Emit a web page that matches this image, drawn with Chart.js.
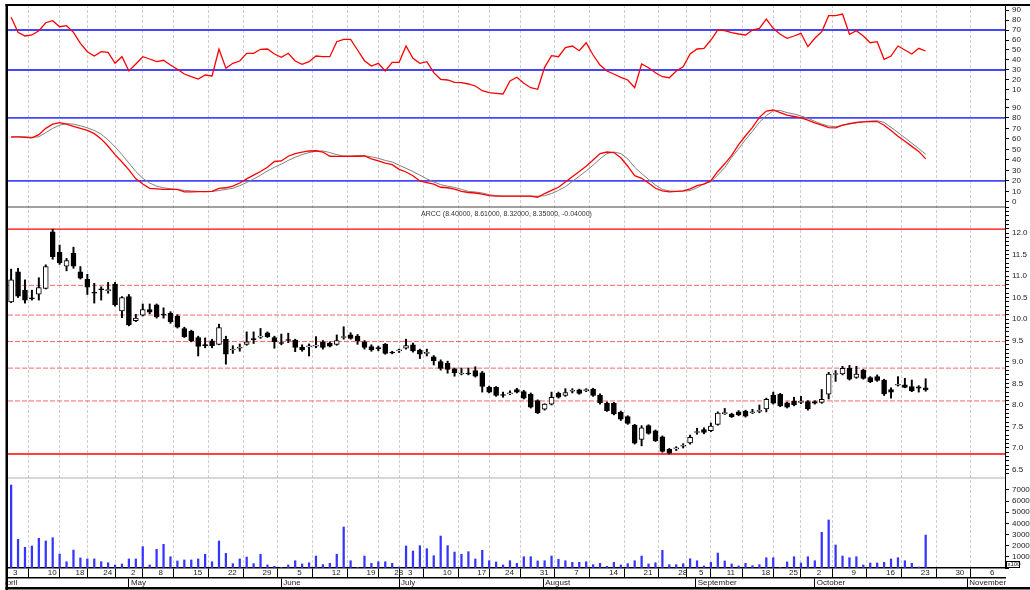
<!DOCTYPE html>
<html lang="en">
<head>
<meta charset="UTF-8">
<title>ARCC</title>
<script src="https://cdn.jsdelivr.net/npm/chart.js"></script>
<style>
  html, body { margin: 0; padding: 0; background: #fff; }
</style>
</head>
<body>
<canvas id="chart" width="1030" height="590"></canvas>
<script>
const ticker = 'ARCC';

// daily candles, one per trading day (index 0 = April 3)
const opens = [10.40,11.10,10.67,10.48,10.58,10.71,12.03,11.55,11.23,11.53,
  11.10,10.92,10.62,10.69,10.66,10.81,10.19,10.52,9.96,10.09,
  10.22,10.33,10.10,10.13,10.07,9.78,9.72,9.57,9.39,9.49,
  9.41,9.53,9.28,9.32,9.41,9.53,9.58,9.68,9.57,9.44,
  9.52,9.51,9.34,9.35,9.37,9.47,9.44,9.41,9.57,9.63,
  9.60,9.47,9.36,9.32,9.41,9.23,9.26,9.32,9.40,9.28,
  9.20,9.12,9.01,8.97,8.84,8.72,8.73,8.80,8.75,8.41,
  8.41,8.23,8.26,8.36,8.31,8.25,8.10,7.90,8.02,8.27,
  8.22,8.32,8.35,8.33,8.37,8.23,8.04,8.04,7.83,7.73,
  7.53,7.20,7.52,7.40,7.26,6.97,6.98,7.04,7.12,7.36,
  7.43,7.40,7.55,7.80,7.79,7.84,7.86,7.82,7.85,7.91,
  8.23,8.25,8.05,8.09,8.06,8.08,8.08,8.06,8.25,8.71,
  8.72,8.85,8.64,8.81,8.64,8.66,8.58,8.36,8.46,8.47,
  8.43,8.42,8.40];
const highs = [11.16,11.18,10.91,10.67,10.96,11.26,12.09,11.72,11.41,11.67,
  11.22,11.04,10.83,10.75,10.85,10.85,10.52,10.57,10.11,10.35,
  10.35,10.35,10.26,10.17,10.10,9.81,9.74,9.60,9.56,9.53,
  9.88,9.60,9.38,9.42,9.70,9.70,9.78,9.70,9.60,9.65,
  9.67,9.53,9.40,9.42,9.59,9.50,9.47,9.63,9.82,9.68,
  9.64,9.50,9.40,9.37,9.43,9.25,9.30,9.53,9.44,9.30,
  9.30,9.15,9.05,9.02,8.86,8.86,8.86,8.89,8.78,8.44,
  8.43,8.30,8.33,8.39,8.34,8.28,8.12,8.03,8.30,8.30,
  8.38,8.38,8.37,8.38,8.39,8.26,8.07,8.06,7.86,7.75,
  7.55,7.52,7.54,7.42,7.28,6.99,7.03,7.10,7.30,7.46,
  7.47,7.58,7.84,7.92,7.81,7.87,7.88,7.90,8.00,8.16,
  8.30,8.27,8.07,8.18,8.20,8.10,8.10,8.36,8.76,8.80,
  8.90,8.92,8.90,8.83,8.66,8.70,8.60,8.40,8.66,8.62,
  8.58,8.45,8.61];
const lows = [10.38,10.50,10.37,10.44,10.44,10.70,11.39,11.27,11.12,11.18,
  10.93,10.57,10.37,10.44,10.60,10.30,10.03,9.84,9.94,10.07,
  10.12,10.02,10.02,9.90,9.79,9.57,9.47,9.14,9.33,9.33,
  9.40,8.95,9.20,9.25,9.39,9.43,9.55,9.57,9.32,9.40,
  9.45,9.24,9.25,9.14,9.33,9.30,9.35,9.39,9.53,9.53,
  9.41,9.30,9.25,9.26,9.18,9.19,9.22,9.30,9.23,9.08,
  9.14,8.93,8.81,8.74,8.67,8.70,8.70,8.65,8.30,8.28,
  8.20,8.18,8.24,8.28,8.14,7.93,7.80,7.88,8.00,8.16,
  8.20,8.28,8.25,8.31,8.20,8.02,7.85,7.77,7.64,7.55,
  7.09,7.05,7.32,7.15,6.90,6.86,6.94,7.00,7.09,7.32,
  7.33,7.38,7.53,7.78,7.71,7.75,7.72,7.80,7.82,7.84,
  8.02,7.96,7.93,7.98,8.03,7.88,8.02,8.04,8.14,8.55,
  8.70,8.58,8.62,8.60,8.52,8.55,8.22,8.16,8.44,8.40,
  8.31,8.30,8.32];
const closes = [10.91,10.53,10.44,10.47,10.73,11.22,11.45,11.31,11.36,11.23,
  10.95,10.74,10.60,10.68,10.68,10.33,10.50,9.86,10.02,10.22,
  10.16,10.05,10.09,9.94,9.81,9.59,9.49,9.36,9.38,9.38,
  9.80,9.18,9.28,9.33,9.47,9.52,9.59,9.59,9.47,9.43,
  9.50,9.34,9.28,9.35,9.38,9.34,9.37,9.50,9.57,9.55,
  9.49,9.34,9.28,9.31,9.20,9.21,9.27,9.38,9.26,9.18,
  9.20,9.03,8.85,8.83,8.75,8.72,8.72,8.67,8.43,8.30,
  8.22,8.22,8.27,8.30,8.16,7.95,7.82,8.02,8.18,8.18,
  8.29,8.33,8.27,8.36,8.22,8.05,7.87,7.79,7.67,7.57,
  7.11,7.47,7.34,7.17,6.92,6.88,6.99,7.05,7.25,7.38,
  7.36,7.51,7.81,7.81,7.73,7.77,7.74,7.83,7.86,8.13,
  8.04,7.98,7.95,8.00,8.07,7.91,8.04,8.13,8.72,8.72,
  8.85,8.60,8.72,8.62,8.54,8.57,8.26,8.30,8.48,8.41,
  8.33,8.39,8.35];

// volume, shown on the axis in units of x100
const volumes = [74300,25700,18500,19700,26600,24200,27100,12500,5600,16100,
  9000,8100,8100,5600,4700,2700,3600,8100,8100,19100,
  2700,16700,21200,10100,6300,7200,7200,8100,12300,5600,
  24200,13100,3900,8100,9800,3900,12300,2700,1500,600,
  2700,6500,3600,4700,10700,3000,4200,12300,36700,6500,
  600,10700,4200,5600,5600,4200,900,19700,15200,20000,
  17300,11000,28600,20000,14300,12300,14600,8100,15800,6500,
  5400,2700,6500,4200,10100,10100,6300,6500,10700,7800,
  6500,5100,5100,5600,3000,4200,1500,5100,2700,3900,
  6500,10700,3600,4700,15800,3000,3000,3900,8300,6500,
  1800,5100,13400,6300,3600,1800,4200,2100,3000,9200,
  9200,600,5400,10100,4500,10100,6500,32000,43000,20600,
  10700,9200,10100,2700,4500,4500,5100,8100,9200,6500,
  4200,900,29500];

const rsi = [82.7,67.7,64,65,69.3,77.3,79.3,73.3,74.3,67.7,
  56.7,48.3,44,48.3,47.7,36.7,43.3,29,36,43.3,
  41,38.3,39.7,35,30.7,26,23.3,21,25,24,
  50.7,31.7,36.7,39,46.7,46.7,50.7,51,46,42.7,
  46.7,39,35.7,38.3,44,43.3,43.3,58.3,60.7,60.7,
  50,39.3,34,36.7,29,37.7,37.7,54,41.7,36.7,
  38.3,27.3,20.7,20,17.7,17.3,16,14,9.3,7.3,
  6.7,6,19,22.7,16.7,12.3,10.7,32.7,44.3,43.3,
  52.3,54,49.3,57.3,45,35,29,26,22.7,20,
  12.3,36,32.3,27.3,23.3,22.3,29,33.3,46,51,
  51.7,60,70,69.3,67.3,66,65,70,71.7,81,
  71.7,65.7,61.7,64,66.7,53.3,61.7,68.3,84.3,84.3,
  86,65.7,69.3,64,57.3,58.3,40.7,44,54,50,
  46,51.7,49];

const stochK = [62,62,61.5,61,64,70,74,75.5,74,72,
  70,68,65,60,53,45,38,30.5,22,17,
  13,12.5,12,12,12,9.5,9.5,9.8,9.8,10,
  13,13.5,15,18,22,25.5,29,33,38.5,39,
  43.5,46,47.5,48.5,48.7,47.5,43.5,43.3,43.3,43.3,
  43.5,43.7,41,39,37,35.5,31,28.5,25,20,
  18.5,17,14,13.5,12.3,10,9,8.5,7.5,6,
  5.5,5.5,5.5,5.5,5.5,5.5,4.5,8,11,14,
  19,24,29,34,40,46,47.5,47,42,34,
  25,22.5,18,13,10.5,9.5,10,10.5,12.5,15.5,
  17,20.3,29,36.3,44.3,54.5,63,71,80.5,86.5,
  87.5,85,82.6,81.3,80,77.8,75.2,73,70.8,70.5,
  73,74.6,75.6,76.2,76.5,76.5,73,67.9,62.5,57.7,
  52.9,48.1,41];
const stochD = [61.5,62,62,61.5,62,66,70,73,74.5,74,
  72.5,70.5,68,64.5,59,52.5,45,37,29,22.5,
  18,15,13.5,12.5,11.8,11,10.5,10,9.8,10,
  10.8,12,13,15.5,18.5,21.8,25.5,29.5,33,36,
  39.5,42.5,45,47,48.3,48.5,47,45,43.8,43.8,
  44,44,43,41.5,39.5,38,35,32,29,25.5,
  22,19,16.5,15,13.8,12,10,9.5,8.5,7,
  6,5.5,5.5,5.5,5.5,5.5,5.5,6,8,11,
  14.5,19.5,24.5,29.5,35,41,46,47.5,46,41,
  33,27,21.5,16,12,10.5,10,10.3,10.8,13.5,
  17.4,19.3,25.7,32.7,42.3,50.6,59.2,67.2,75.8,82.2,
  86.7,87,85,83.7,81.8,79.6,76.7,74.1,72.2,71.6,
  72.9,74.1,75.4,76.3,77,77.3,75.7,70.9,66.1,61,
  55.9,50.8,45.3];

const rsiLevels = [70, 30];
const stochLevels = [80, 20];
const fibRatios = [0, 0.236, 0.382, 0.5, 0.618, 0.75, 1];

// x axis: trading-day positions of the week and month labels
const dayTickPos = [0,5,9,13,17,21,26,31,36,41,46,51,55,57,62,67,71,76,81,86,91,96,99,103,108,112,116,121,126,131,136,141];
const dayLabels = ['3','10','18','24','2','8','15','22','29','5','12','19','28','3','10','17','24','31','7','14','21','28','5','11','18','25','2','9','16','23','30','6'];
const monthTickPos = [-1.7,17,39,56,76.8,98.8,116,138];
const monthLabels = ['April','May','June','July','August','September','October','November'];

const rsiTicks = [0,10,20,30,40,50,60,70,80,90];
const stochTicks = [0,10,20,30,40,50,60,70,80,90];
const priceTicks = [6.5,7.0,7.5,8.0,8.5,9.0,9.5,10.0,10.5,11.0,11.5,12.0];
const volumeTicks = [0,10000,20000,30000,40000,50000,60000,70000];

const X_MIN = -0.45, X_MAX = 143.45;
const idx = closes.map((c, i) => i);

const fibHigh = Math.max(...highs);
const fibLow = Math.min(...lows);

function hline(value, axis, color, width, dash) {
    return {
        type: 'line',
        data: [{x: X_MIN, y: value}, {x: X_MAX, y: value}],
        yAxisID: axis,
        borderColor: color,
        borderWidth: width,
        borderDash: dash || [],
        pointRadius: 0,
        order: 6
    };
}

const datasets = [];
rsiLevels.forEach(v => datasets.push(hline(v, 'yR', '#4646ff', 1.8)));
stochLevels.forEach(v => datasets.push(hline(v, 'yS', '#4646ff', 1.8)));
fibRatios.forEach(r => {
    const solid = (r === 0 || r === 1);
    datasets.push(hline(fibLow + r * (fibHigh - fibLow), 'yP',
        solid ? '#ff0000' : '#ff6464', solid ? 1.4 : 1, solid ? [] : [5, 2]));
});

datasets.push({
    type: 'line', yAxisID: 'yR', order: 2,
    data: rsi.map((v, i) => ({x: i, y: v})),
    borderColor: '#ff0000', borderWidth: 1.3, pointRadius: 0
});
datasets.push({
    type: 'line', yAxisID: 'yS', order: 3,
    data: stochD.map((v, i) => ({x: i, y: v})),
    borderColor: '#808080', borderWidth: 1, pointRadius: 0
});
datasets.push({
    type: 'line', yAxisID: 'yS', order: 2,
    data: stochK.map((v, i) => ({x: i, y: v})),
    borderColor: '#ff0000', borderWidth: 1.3, pointRadius: 0
});

// candles: wick (low-high) behind body (open-close)
datasets.push({
    type: 'bar', yAxisID: 'yP', order: 1, grouped: false,
    data: idx.map(i => ({x: i, y: [lows[i], highs[i]]})),
    backgroundColor: '#000', barThickness: 1.3
});
datasets.push({
    type: 'bar', yAxisID: 'yP', order: 0, grouped: false,
    data: idx.map(i => ({x: i, y: [opens[i], closes[i]]})),
    backgroundColor: ctx => closes[ctx.dataIndex] >= opens[ctx.dataIndex] ? '#fff' : '#000',
    borderColor: '#000', borderWidth: 1, borderSkipped: false,
    barThickness: 5, minBarLength: 1
});
datasets.push({
    type: 'bar', yAxisID: 'yV', order: 1, grouped: false,
    data: idx.map(i => ({x: i, y: volumes[i]})),
    backgroundColor: '#3535ff', barThickness: 1.6
});

// stop tick labels from pushing the plot area inwards
function noPad(s) {
    s.paddingTop = 0; s.paddingBottom = 0; s.paddingLeft = 0; s.paddingRight = 0;
}

function yAxis(weight, min, max, ticks, fmt) {
    return {
        type: 'linear', position: 'right', stack: 'panels', stackWeight: weight,
        min: min, max: max, bounds: 'data',
        afterBuildTicks: s => { s.ticks = ticks.map(v => ({value: v})); },
        afterFit: s => { s.width = 25; noPad(s); },
        grid: { drawOnChartArea: false, drawTicks: true, tickLength: 4, tickColor: '#000' },
        border: { display: true, color: '#000', width: 1 },
        ticks: { autoSkip: false, padding: 3, color: '#222', font: { size: 8 }, callback: fmt }
    };
}

// minor price ticks every 0.1 for the ruler look
const priceRuler = [];
for (let k = 64; k <= 126; k++) priceRuler.push(k / 10);

const framePlugin = {
    id: 'frame',
    afterDraw(chart) {
        const {ctx, chartArea: a, scales} = chart;
        ctx.save();
        ctx.fillStyle = '#fff';
        ctx.fillRect(0, 0, 5.5, chart.height);
        ctx.fillStyle = '#000';
        ctx.fillRect(5.5, 4, 2.5, chart.height - 4);
        ctx.fillRect(5.5, 4, chart.width, 2);
        ctx.fillRect(5.5, 587, chart.width, 2.5);

        // panel separators
        ctx.fillStyle = '#444';
        ctx.fillRect(a.left, Math.round(scales.yP.top) - 0.5, a.right - a.left, 1);
        ctx.fillStyle = '#b0b0b0';
        ctx.fillRect(a.left, Math.round(scales.yV.top) - 0.5, a.right - a.left, 1);

        // price panel title from the last candle
        const n = closes.length - 1;
        const chg = closes[n] - closes[n - 1];
        const txt = ticker + ' (' + [opens[n], highs[n], lows[n], closes[n], chg].map(v => v.toFixed(5)).join(', ') + ')';
        ctx.font = '7px "Liberation Sans", Arial, sans-serif';
        ctx.fillStyle = '#333';
        ctx.textAlign = 'center';
        ctx.textBaseline = 'middle';
        ctx.fillText(txt, (a.left + a.right) / 2, scales.yP.top + 7);

        // volume multiplier box
        ctx.fillStyle = '#fff';
        ctx.fillRect(a.right + 1, a.bottom - 7, 14, 7);
        ctx.strokeStyle = '#000';
        ctx.lineWidth = 1;
        ctx.strokeRect(a.right + 1.5, a.bottom - 6.5, 13, 6);
        ctx.font = '6px "Liberation Sans", Arial, sans-serif';
        ctx.fillStyle = '#222';
        ctx.textAlign = 'left';
        ctx.fillText('x100', a.right + 2.5, a.bottom - 3.3);
        ctx.restore();
    }
};

Chart.defaults.font.family = '"Liberation Sans", Arial, sans-serif';

new Chart(document.getElementById('chart'), {
    type: 'line',
    data: { datasets: datasets },
    options: {
        responsive: false,
        animation: false,
        devicePixelRatio: 1,
        events: [],
        layout: { padding: { left: 8, top: 5, right: 0, bottom: 3 } },
        plugins: { legend: { display: false }, tooltip: { enabled: false } },
        scales: {
            x: {
                type: 'linear', position: 'bottom', min: X_MIN, max: X_MAX, bounds: 'data', offset: false,
                afterBuildTicks: s => { s.ticks = dayTickPos.map(v => ({value: v})); },
                afterFit: s => { s.height = 10; noPad(s); },
                grid: { color: '#cdcdcd', lineWidth: 1, drawTicks: true, tickLength: 10, tickColor: '#000', tickWidth: 1, tickBorderDash: [] },
                border: { display: true, color: '#000', width: 1.5, dash: [3, 2] },
                ticks: { autoSkip: false, maxRotation: 0, minRotation: 0, align: 'start', labelOffset: 2, padding: -10,
                    color: '#222', font: { size: 8 }, callback: (v, i) => dayLabels[i] }
            },
            xm: {
                type: 'linear', position: 'bottom', min: X_MIN, max: X_MAX, bounds: 'data', offset: false,
                afterBuildTicks: s => { s.ticks = monthTickPos.map(v => ({value: v})); },
                afterFit: s => { s.height = 9; noPad(s); },
                grid: { drawOnChartArea: false, drawTicks: true, tickLength: 9, tickColor: '#000', tickWidth: 1 },
                border: { display: true, color: '#000', width: 1.5 },
                ticks: { autoSkip: false, maxRotation: 0, minRotation: 0, align: 'start', labelOffset: 2, padding: -9,
                    color: '#222', font: { size: 8 }, callback: (v, i) => monthLabels[i] }
            },
            yR: yAxis(95, 0, 95, rsiTicks, v => v === 0 ? '' : v),
            yS: yAxis(107, -4.8, 97, stochTicks, v => v),
            yP: yAxis(271, 6.302, 12.605, priceRuler,
                v => priceTicks.some(p => Math.abs(p - v) < 1e-6) ? v.toFixed(1) : ''),
            yV: yAxis(90, 0, 80600, volumeTicks, v => v === 0 ? '' : v)
        }
    },
    plugins: [framePlugin]
});
</script>
</body>
</html>
